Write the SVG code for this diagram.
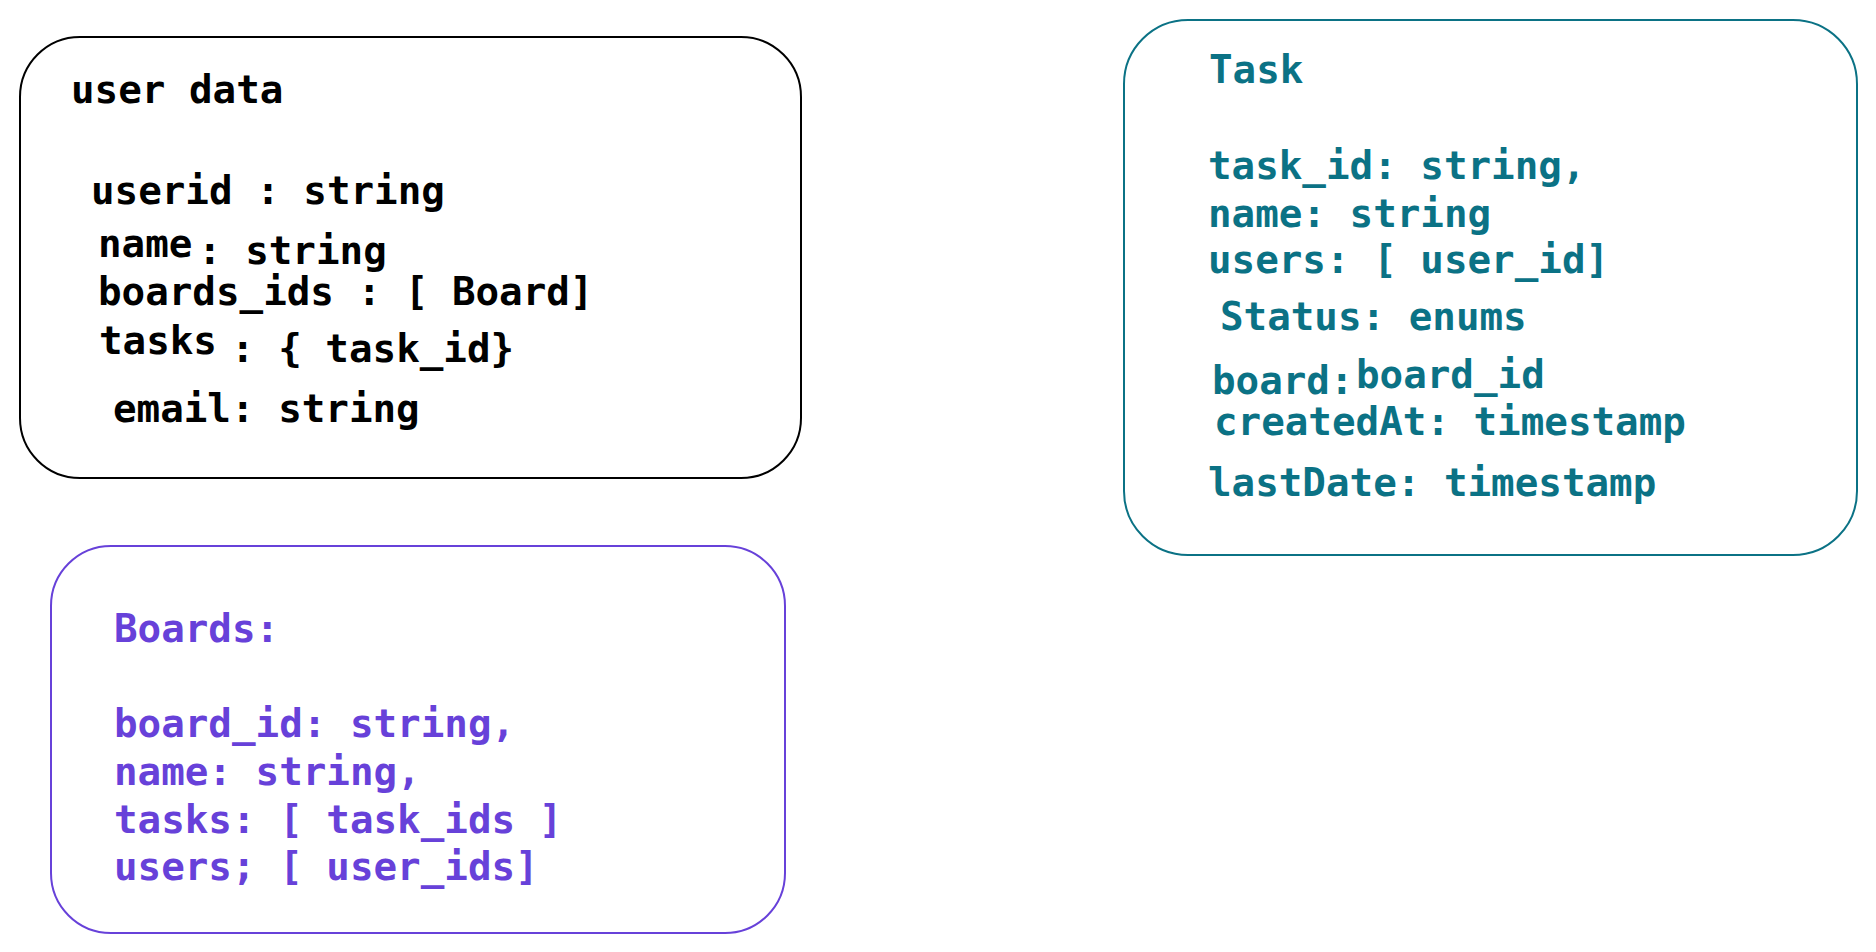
<svg xmlns="http://www.w3.org/2000/svg" width="1876" height="952" viewBox="0 0 1876 952">
<style>
  .box { fill: #ffffff; stroke-width: 2; }
  .t { font-family: "DejaVu Sans Mono", "Liberation Mono", monospace; font-weight: bold; font-size: 39.2px; }
  .user .box { stroke: #000000; }
  .user .t { fill: #000000; }
  .task .box { stroke: #0b7285; }
  .task .t { fill: #0b7285; }
  .boards .box { stroke: #6741d9; }
  .boards .t { fill: #6741d9; }
</style>
<rect width="1876" height="952" fill="#ffffff"/>
<g id="connectors"></g>
<g id="user-data" class="user">
  <rect class="box" x="20" y="37" width="781" height="441" rx="60" ry="60"/>
  <text class="t" x="71" y="103">user data</text>
  <text class="t" x="91" y="204">userid : string</text>
  <text class="t" x="98" y="257">name</text>
  <text class="t" x="198" y="264">: string</text>
  <text class="t" x="98" y="305">boards_ids : [ Board]</text>
  <text class="t" x="99" y="354">tasks</text>
  <text class="t" x="231" y="362">: { task_id}</text>
  <text class="t" x="113" y="422">email: string</text>
</g>
<g id="task" class="task">
  <rect class="box" x="1124" y="20" width="733" height="535" rx="64" ry="64"/>
  <text class="t" x="1209" y="83">Task</text>
  <text class="t" x="1208" y="179">task_id: string,</text>
  <text class="t" x="1208" y="227">name: string</text>
  <text class="t" x="1208" y="273">users: [ user_id]</text>
  <text class="t" x="1220" y="330">Status: enums</text>
  <text class="t" x="1212" y="394">board:</text>
  <text class="t" x="1356" y="388">board_id</text>
  <text class="t" x="1214" y="435">createdAt: timestamp</text>
  <text class="t" x="1208" y="496">lastDate: timestamp</text>
</g>
<g id="boards" class="boards">
  <rect class="box" x="51" y="546" width="734" height="387" rx="60" ry="60"/>
  <text class="t" x="114" y="642">Boards:</text>
  <text class="t" x="114" y="737">board_id: string,</text>
  <text class="t" x="114" y="785">name: string,</text>
  <text class="t" x="114" y="833">tasks: [ task_ids ]</text>
  <text class="t" x="114" y="880">users; [ user_ids]</text>
</g>
</svg>
